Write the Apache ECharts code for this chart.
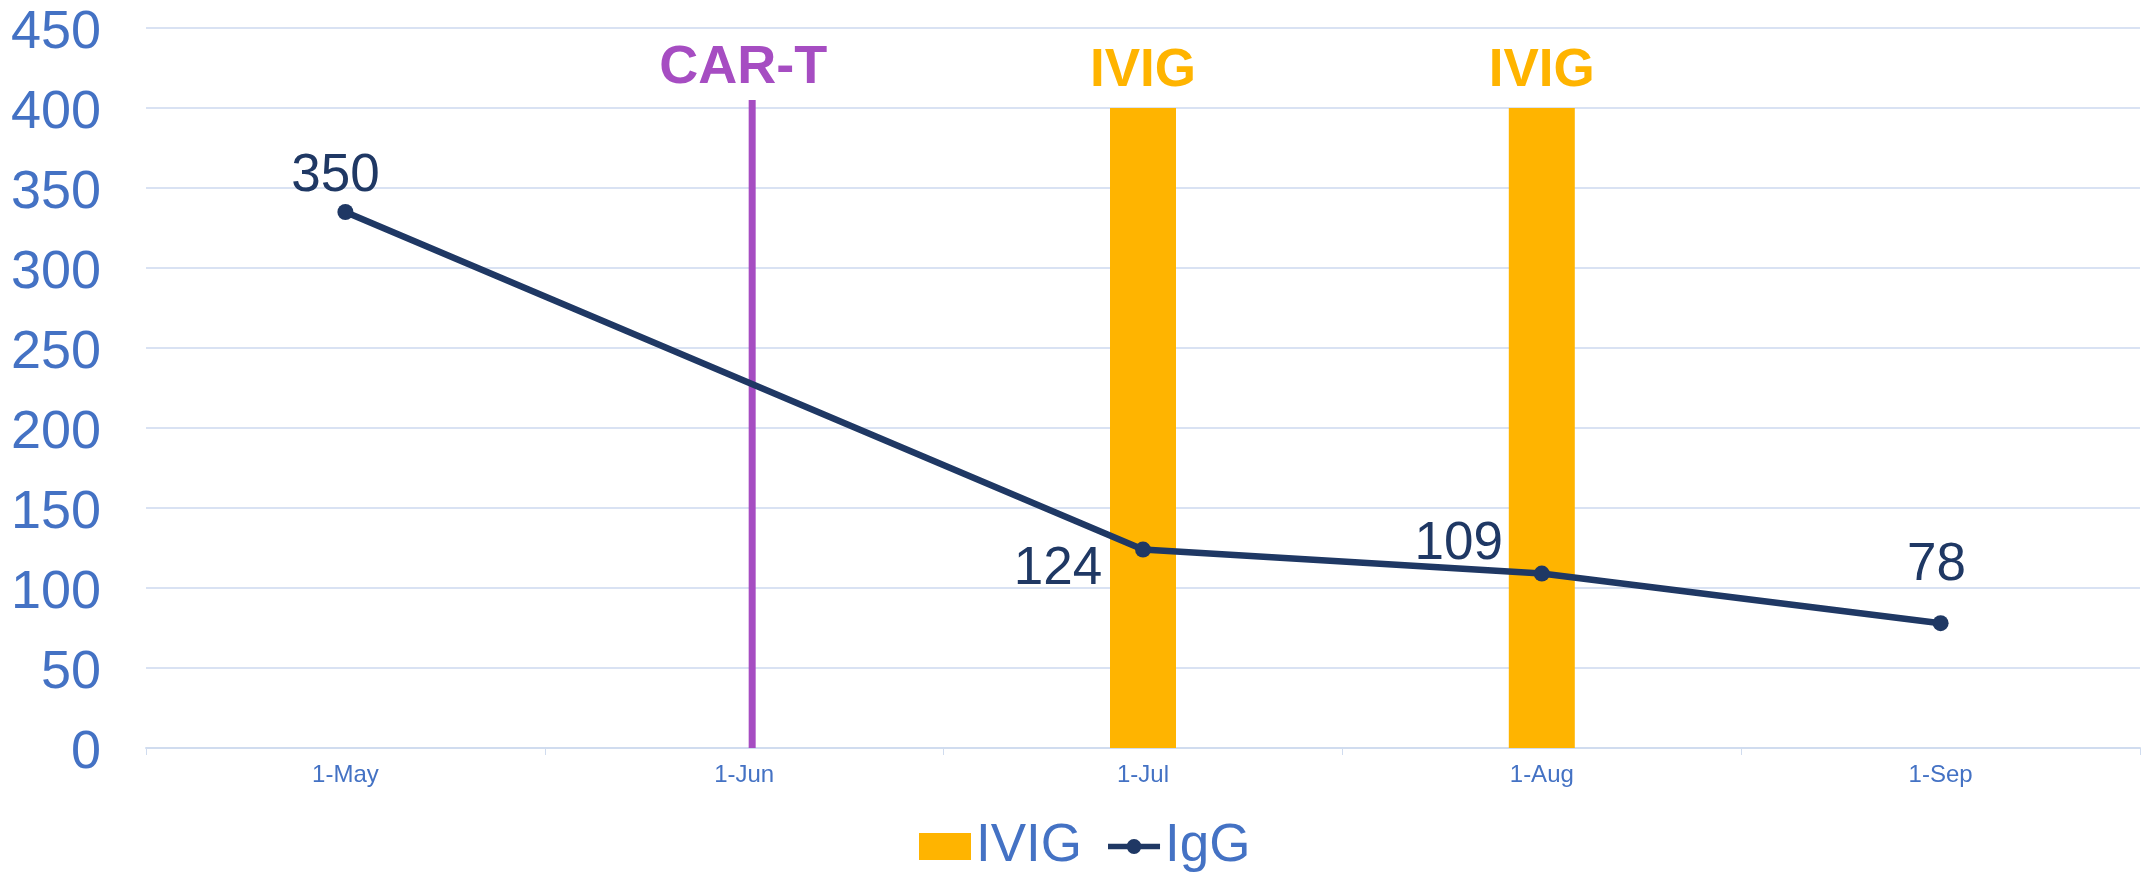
<!DOCTYPE html>
<html>
<head>
<meta charset="utf-8">
<script src="https://cdn.jsdelivr.net/npm/echarts@6/dist/echarts.min.js"></script>
<style>
html,body{margin:0;padding:0;background:#fff;}
#chart{width:2144px;height:872px;}
</style>
</head>
<body>
<div id="chart"></div>
<script>
// ---- data ----
var categories = ['1-May', '1-Jun', '1-Jul', '1-Aug', '1-Sep'];
var ivigValues = [null, null, 400, 400, null];
var iggValues = [335, null, 124, 109, 78];
var iggLabels = ['350', '', '124', '109', '78'];
var carTPosition = 1.52;          // position along the month axis (0..5)
var carTValues = [0, 405];
var yTicks = { min: 0, max: 450, interval: 50 };

// ---- styles (not data) ----
var labelOffsets = [[-10, -36], [0, 0], [-85, 20], [-83, -29], [-4, -58]];
var BLUE = '#4472C4', NAVY = '#1F3864', ORANGE = '#FFB400', PURPLE = '#A64DC2', GRID = '#D9E2F3';
var FONT = '"Liberation Sans", Arial, sans-serif';
var LINE_ICON = 'path://M0,4.5 L20.5,4.5 L20.5,10.5 L0,10.5 Z M35.5,4.5 L56,4.5 L56,10.5 L35.5,10.5 Z M20,7.5 A8,8 0 1,1 36,7.5 A8,8 0 1,1 20,7.5 Z';

var chart = echarts.init(document.getElementById('chart'));

var iggData = iggValues.map(function (v, i) {
  return {
    value: v,
    label: { show: iggLabels[i] !== '', position: 'inside', offset: labelOffsets[i],
             formatter: function () { return iggLabels[i]; } }
  };
});

var carTData = carTValues.map(function (v, i) {
  return {
    value: [carTPosition, v],
    label: { show: i === carTValues.length - 1 }
  };
});

chart.setOption({
  animation: false,
  backgroundColor: '#fff',
  textStyle: { fontFamily: FONT },
  grid: { left: 146, right: 4, top: 28, bottom: 124, containLabel: false },
  legend: {
    data: [{ name: 'IVIG', icon: 'rect' }, { name: 'IgG', icon: LINE_ICON, itemStyle: { color: NAVY } }],
    left: 914, top: 815,
    itemWidth: 52, itemHeight: 27, itemGap: 26,
    symbolKeepAspect: true,
    textStyle: { color: BLUE, fontSize: 53, fontFamily: FONT }
  },
  xAxis: [{
    type: 'category', data: categories, boundaryGap: true,
    axisLine: { lineStyle: { color: '#D0DCEF', width: 2 } },
    axisTick: { show: true, alignWithLabel: false, length: 7, lineStyle: { color: '#D0DCEF', width: 1 } },
    axisLabel: { color: BLUE, fontSize: 24, margin: 15, fontFamily: FONT },
    splitLine: { show: false }
  }, {
    type: 'value', min: 0, max: categories.length, show: false
  }],
  yAxis: {
    type: 'value', min: yTicks.min, max: yTicks.max, interval: yTicks.interval,
    axisLine: { show: false }, axisTick: { show: false },
    axisLabel: { color: BLUE, fontSize: 54, margin: 45, fontFamily: FONT,
                 verticalAlign: 'top', lineHeight: 11 },
    splitLine: { lineStyle: { color: GRID, width: 2 } }
  },
  series: [{
    name: 'IVIG', type: 'bar', data: ivigValues, barWidth: 66,
    itemStyle: { color: ORANGE },
    label: { show: true, position: 'top', distance: 10, formatter: 'IVIG',
             color: ORANGE, fontSize: 53, fontWeight: 'bold', fontFamily: FONT }
  }, {
    name: 'CAR-T', type: 'line', xAxisIndex: 1, data: carTData,
    symbol: 'circle', symbolSize: 2, showSymbol: true,
    itemStyle: { color: 'rgba(0,0,0,0)' },
    lineStyle: { color: PURPLE, width: 7, cap: 'butt' },
    label: { position: 'inside', offset: [-9, -32], formatter: 'CAR-T',
             color: PURPLE, fontSize: 54, fontWeight: 'bold', fontFamily: FONT },
    z: 3
  }, {
    name: 'IgG', type: 'line', data: iggData, connectNulls: true,
    symbol: 'circle', symbolSize: 16,
    itemStyle: { color: NAVY },
    lineStyle: { color: NAVY, width: 6.5 },
    label: { color: NAVY, fontSize: 53, fontFamily: FONT },
    z: 4
  }]
});
</script>
</body>
</html>
